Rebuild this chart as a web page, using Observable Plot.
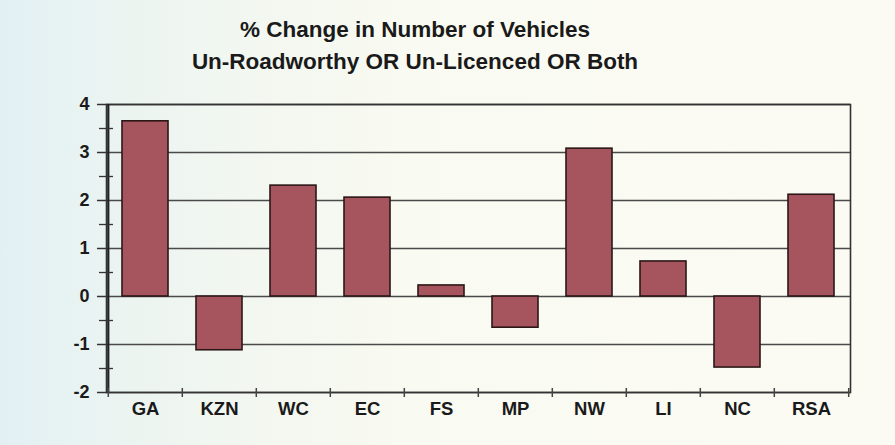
<!DOCTYPE html>
<html>
<head>
<meta charset="utf-8">
<script src="https://cdn.jsdelivr.net/npm/d3@7"></script>
<script src="https://cdn.jsdelivr.net/npm/@observablehq/plot@0.6"></script>
<style>
  html, body { margin: 0; padding: 0; }
  body {
    width: 895px; height: 445px; overflow: hidden;
    background: linear-gradient(to right, #e2f0f4 0%, #eef5f0 18%, #f9faf1 45%, #fbfbf3 100%);
    font-family: "Liberation Sans", Arial, sans-serif;
  }
  #title {
    width: 830px; padding-top: 14px; text-align: center;
    font-weight: bold; font-size: 22.5px; line-height: 32px; color: #1a1a1a;
  }
</style>
</head>
<body>
<div id="title">% Change in Number of Vehicles<br>Un-Roadworthy OR Un-Licenced OR Both</div>
<div id="chart"></div>
<script>
const regions = ["GA", "KZN", "WC", "EC", "FS", "MP", "NW", "LI", "NC", "RSA"];
const changes = [3.65, -1.12, 2.31, 2.06, 0.23, -0.65, 3.08, 0.73, -1.48, 2.12];
const yTicks = [-2, -1, 0, 1, 2, 3, 4];
const yMinorTicks = [-1.5, -0.5, 0.5, 1.5, 2.5, 3.5];

const data = regions.map((r, i) => ({region: r, value: changes[i]}));

const W = 895, H = 367, ML = 106, MR = 45, MT = 26, MB = 53;
const step = (W - ML - MR) / regions.length;

const chart = Plot.plot({
  width: W, height: H,
  marginLeft: ML, marginRight: MR, marginTop: MT, marginBottom: MB,
  style: {background: "transparent", fontFamily: "'Liberation Sans', Arial, sans-serif", color: "#1a1a1a"},
  x: {type: "band", domain: regions, paddingInner: 0.38, paddingOuter: 0.19, label: null},
  y: {domain: [-2, 4], label: null},
  marks: [
    Plot.ruleY(yTicks, {stroke: "#4a4a4a", strokeWidth: 1.3}),
    Plot.barY(data, {x: "region", y: "value", fill: "#a6545e", stroke: "#2b1717", strokeWidth: 1.6}),
    Plot.frame({stroke: "#333", strokeWidth: 1.6}),
    Plot.ruleX([regions[0]], {dx: -step / 2, stroke: "#222", strokeWidth: 2.2}),
    Plot.axisY(yTicks, {tickSize: 9, tickPadding: 8, fontSize: 18, fontWeight: "bold", tickFormat: d => String(d), stroke: "#333", strokeWidth: 1.5, label: null}),
    Plot.axisY(yMinorTicks, {tickSize: 14, dx: 7, tickFormat: () => "", stroke: "#333", strokeWidth: 1.3, label: null}),
    Plot.ruleX(regions, {x: d => d, y1: -2, y2: -2, dx: -step / 2, stroke: "#444", strokeWidth: 1.5, insetTop: -4, insetBottom: -5}),
    Plot.ruleX([regions[regions.length - 1]], {y1: -2, y2: -2, dx: step / 2, stroke: "#444", strokeWidth: 1.5, insetTop: -4, insetBottom: -5}),
    Plot.axisX({tickSize: 0, tickPadding: 9, fontSize: 18.5, fontWeight: "bold", label: null})
  ]
});
document.getElementById("chart").appendChild(chart);
</script>
</body>
</html>
